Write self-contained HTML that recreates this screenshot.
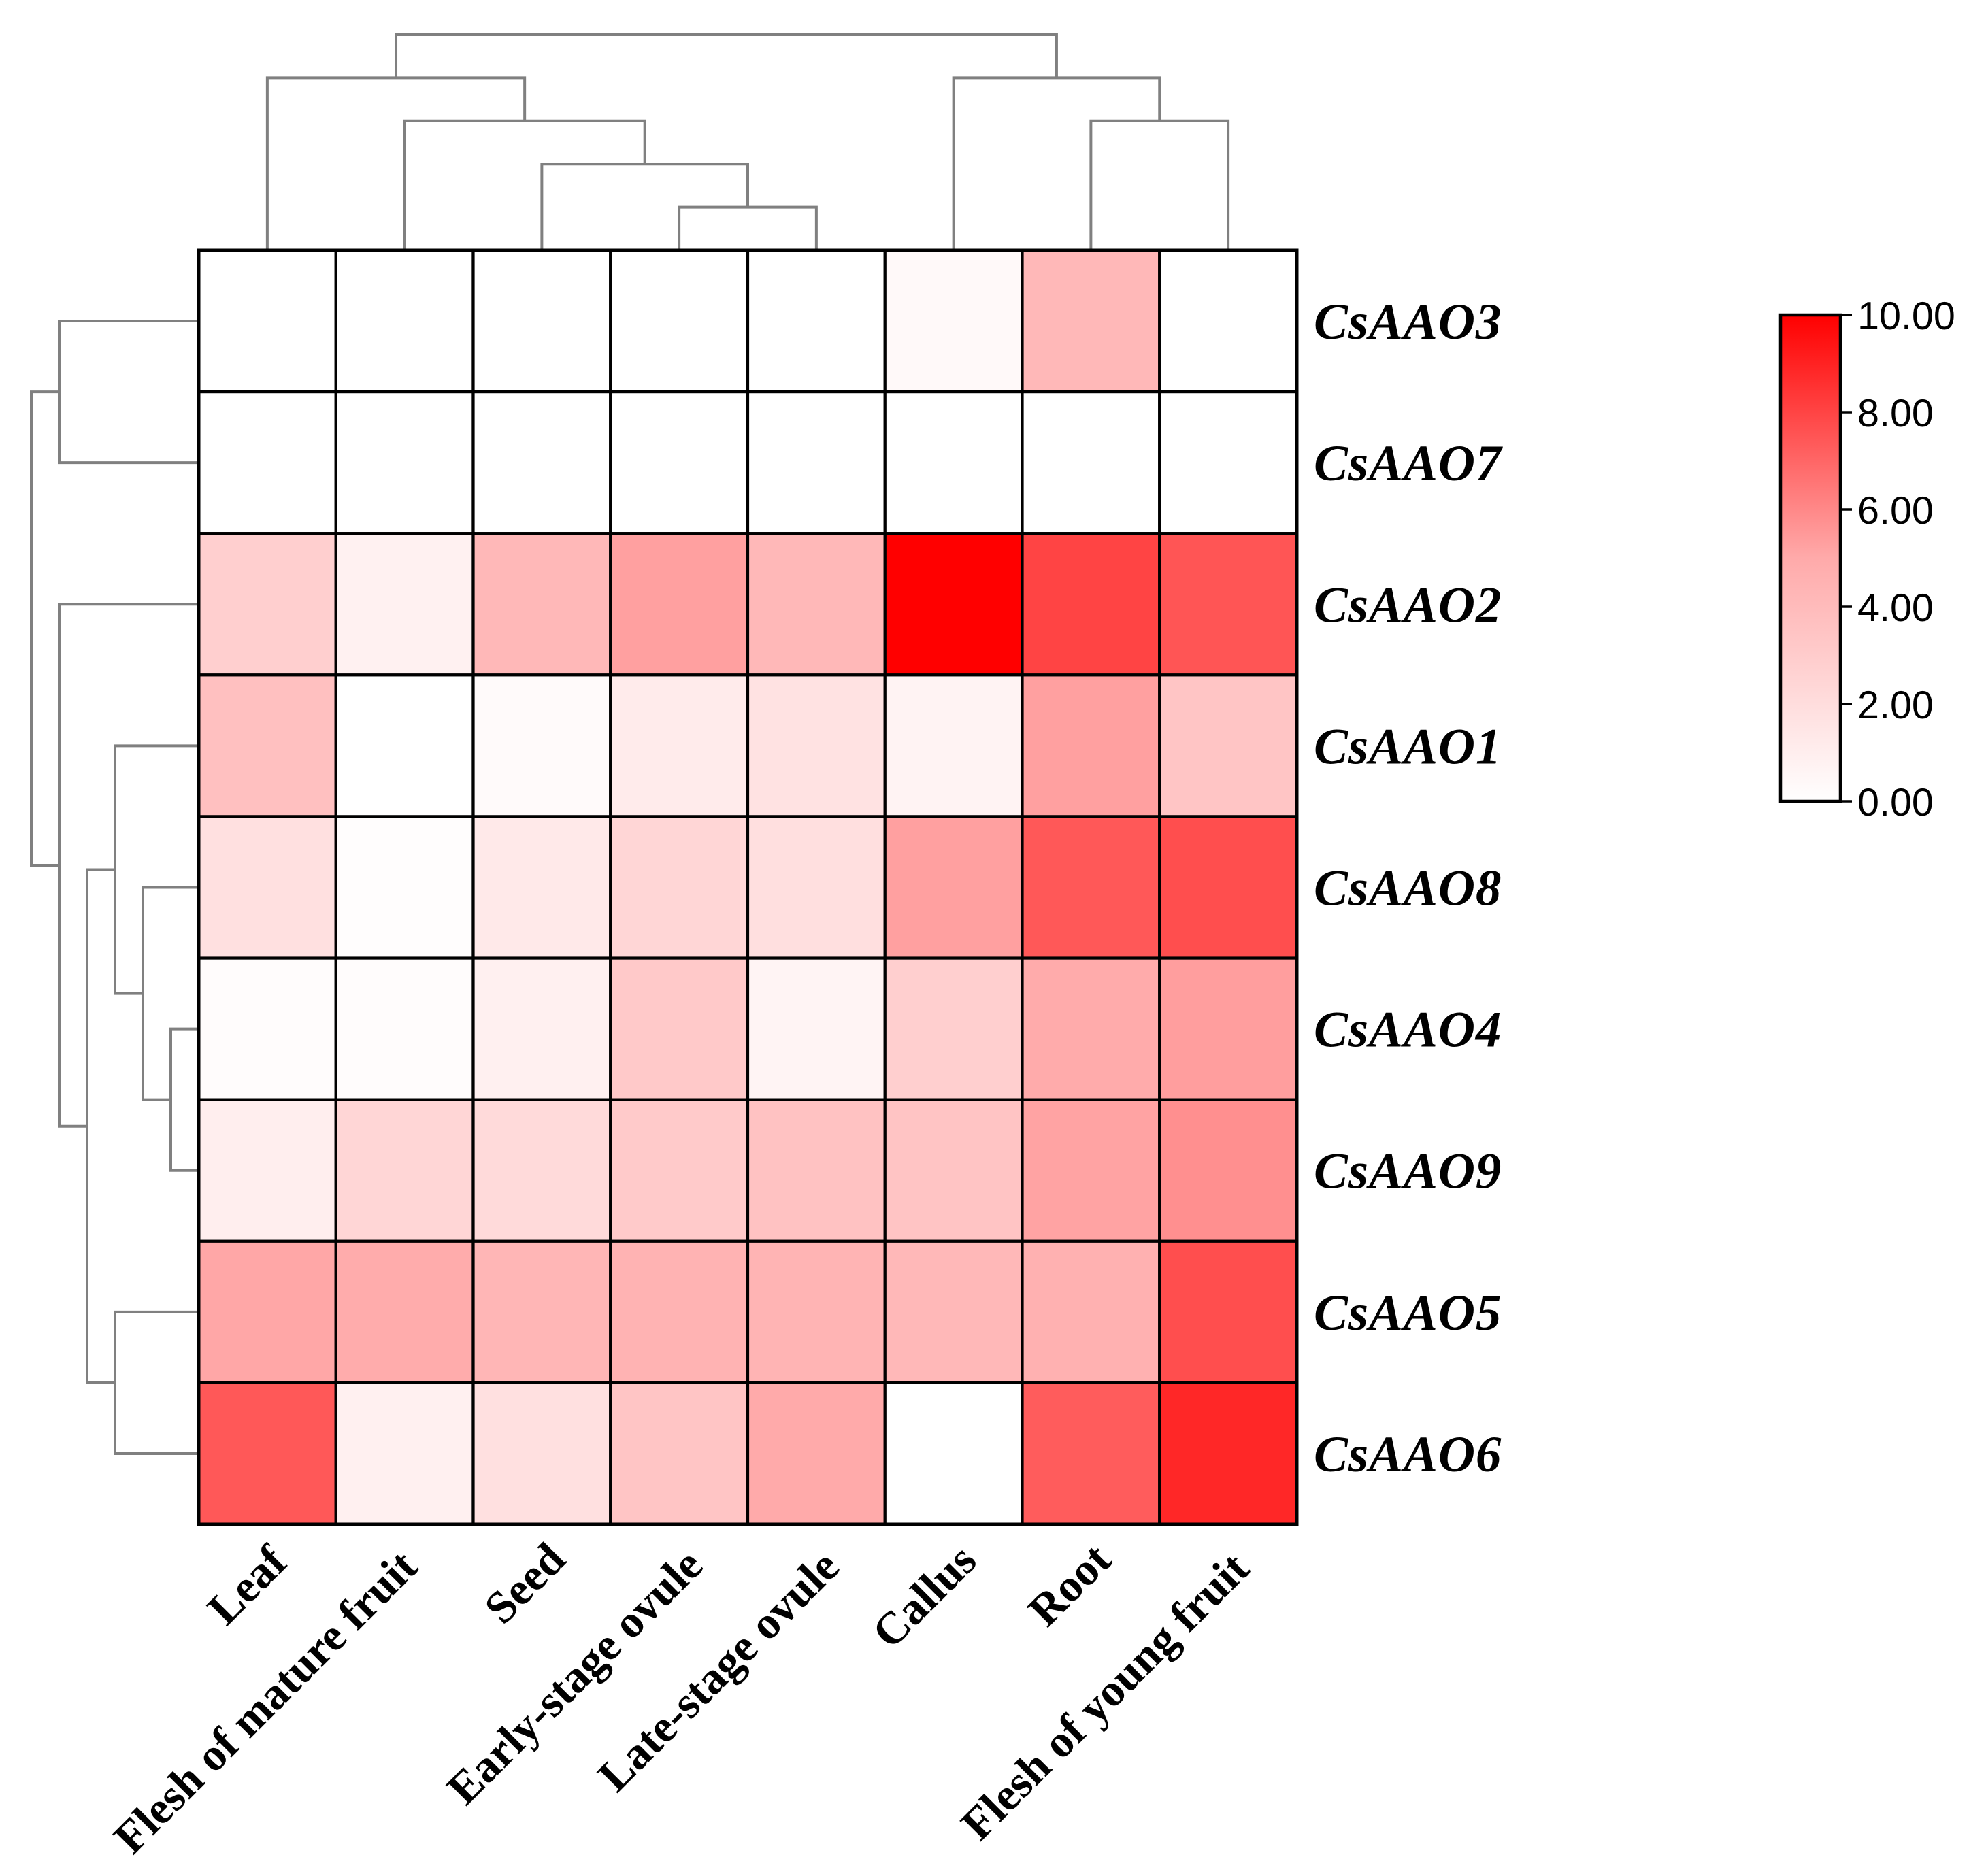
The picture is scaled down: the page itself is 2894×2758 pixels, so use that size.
<!DOCTYPE html>
<html lang="en">
<head>
<meta charset="utf-8">
<title>CsAAO expression heatmap</title>
<style>
html,body{margin:0;padding:0;background:#fff;}
svg{display:block;}
</style>
</head>
<body>
<svg id="chart" xmlns="http://www.w3.org/2000/svg" width="2894" height="2758" viewBox="0 0 2894 2758"></svg>
<script>
const colLabels = ["Leaf", "Flesh of mature fruit", "Seed", "Early-stage ovule", "Late-stage ovule", "Callus", "Root", "Flesh of young fruit"];
const rowLabels = ["CsAAO3", "CsAAO7", "CsAAO2", "CsAAO1", "CsAAO8", "CsAAO4", "CsAAO9", "CsAAO5", "CsAAO6"];
const valuesCsAAO3 = [0, 0, 0, 0, 0, 0.35, 4.2, 0];
const valuesCsAAO7 = [0, 0, 0, 0, 0, 0, 0, 0];
const valuesCsAAO2 = [2.8, 0.8, 4.2, 5.3, 4.2, 10, 8, 7.5];
const valuesCsAAO1 = [3.7, 0, 0.3, 1.2, 1.7, 0.7, 5.3, 3.4];
const valuesCsAAO8 = [1.8, 0.1, 1.3, 2.4, 1.9, 5.3, 7.4, 7.7];
const valuesCsAAO4 = [0.15, 0.15, 0.9, 3.2, 0.65, 2.8, 4.95, 5.35];
const valuesCsAAO9 = [1, 2.4, 2.2, 3.1, 3.6, 3.5, 5.2, 5.8];
const valuesCsAAO5 = [5.1, 4.9, 4.3, 4.5, 4.4, 4.2, 4.6, 7.7];
const valuesCsAAO6 = [7.4, 0.9, 1.8, 3.4, 5, 0, 7.3, 8.85];
const matrix = [valuesCsAAO3, valuesCsAAO7, valuesCsAAO2, valuesCsAAO1, valuesCsAAO8, valuesCsAAO4, valuesCsAAO9, valuesCsAAO5, valuesCsAAO6];
const colorbarTicks = [0, 2, 4, 6, 8, 10];
const colorbarTickLabels = ["0.00", "2.00", "4.00", "6.00", "8.00", "10.00"];
/* Linkage tables: [childA, childB, height]; ids past the leaf count refer to earlier merges. */
const topMerges = [[3, 4, 1], [2, 8, 2], [1, 9, 3], [6, 7, 3], [0, 10, 4], [5, 11, 4], [12, 13, 5]];
const leftMerges = [[0, 1, 5], [5, 6, 1], [4, 10, 2], [3, 11, 3], [7, 8, 3], [12, 13, 4], [2, 14, 5], [9, 15, 6]];

const NS = "http://www.w3.org/2000/svg";
const svg = document.getElementById("chart");
const grid = { left: 292, top: 368, right: 1906, bottom: 2241 };
const cellW = (grid.right - grid.left) / colLabels.length;
const cellH = (grid.bottom - grid.top) / rowLabels.length;
const colCenter = i => grid.left + cellW * (i + 0.5);
const rowCenter = i => grid.top + cellH * (i + 0.5);
const topLevel = h => grid.top - 63.4 * h;
const leftLevel = h => grid.left - 41 * h;
const bar = { left: 2617, right: 2705, top: 463, bottom: 1178, max: 10 };
const barY = v => bar.bottom - (bar.bottom - bar.top) * v / bar.max;
const colLabelNudge = {
  "Leaf": [2, 0],
  "Flesh of mature fruit": [-8, 7],
  "Seed": [8, -4],
  "Early-stage ovule": [8, 5],
  "Late-stage ovule": [7, 7],
  "Callus": [7, -2],
  "Root": [3, -3],
  "Flesh of young fruit": [4, 10]
};

function channel(v) {
  const t = Math.max(0, Math.min(10, v));
  return Math.round(t <= 5 ? 255 - 17 * t : 170 - 34 * (t - 5));
}
function color(v) {
  const c = channel(v);
  return "rgb(255," + c + "," + c + ")";
}
function make(tag, attrs, parent) {
  const el = document.createElementNS(NS, tag);
  for (const k in attrs) el.setAttribute(k, attrs[k]);
  parent.appendChild(el);
  return el;
}

/* Top dendrogram */
const topGroup = make("g", { fill: "none", stroke: "#808080", "stroke-width": 4, "stroke-linejoin": "miter" }, svg);


const topNodes = colLabels.map((_, i) => ({ pos: colCenter(i), h: 0 }));
topMerges.forEach((m, idx) => {
  const a = topNodes[m[0]], b = topNodes[m[1]];
  const path = make("path", { d: "M" + a.pos + " " + topLevel(a.h) + "V" + topLevel(m[2]) + "H" + b.pos + "V" + topLevel(b.h) }, topGroup);
  
  
  topNodes.push({ pos: (a.pos + b.pos) / 2, h: m[2] });
});

/* Left dendrogram */
const leftGroup = make("g", { fill: "none", stroke: "#808080", "stroke-width": 4, "stroke-linejoin": "miter" }, svg);


const leftNodes = rowLabels.map((_, i) => ({ pos: rowCenter(i), h: 0 }));
leftMerges.forEach((m, idx) => {
  const a = leftNodes[m[0]], b = leftNodes[m[1]];
  const path = make("path", { d: "M" + leftLevel(a.h) + " " + a.pos + "H" + leftLevel(m[2]) + "V" + b.pos + "H" + leftLevel(b.h) }, leftGroup);
  
  
  leftNodes.push({ pos: (a.pos + b.pos) / 2, h: m[2] });
});

/* Heatmap cells */
const cellGroup = make("g", { stroke: "#000", "stroke-width": 4.2 }, svg);


matrix.forEach((row, r) => {
  row.forEach((v, c) => {
    const cell = make("rect", { x: grid.left + c * cellW, y: grid.top + r * cellH, width: cellW, height: cellH, fill: color(v) }, cellGroup);
    
    
  });
});
const frame = make("rect", { x: grid.left, y: grid.top, width: grid.right - grid.left, height: grid.bottom - grid.top, fill: "none", stroke: "#000", "stroke-width": 5 }, svg);



/* Row labels */
rowLabels.forEach((label, r) => {
  const t = make("text", { x: 1931, y: rowCenter(r) + 26, "font-family": '"Liberation Serif", serif', "font-weight": "bold", "font-style": "italic", "font-size": 75, "letter-spacing": 0.9, fill: "#000" }, svg);
  t.textContent = label;
  
  
});

/* Column labels */
colLabels.forEach((label, c) => {
  const nudge = colLabelNudge[label];
  const x = colCenter(c) + 30 + nudge[0], y = 2300 + nudge[1];
  const t = make("text", { x: x, y: y, "text-anchor": "end", transform: "rotate(-45 " + x + " " + y + ")", "font-family": '"Liberation Serif", serif', "font-weight": "bold", "font-size": 67, fill: "#000" }, svg);
  t.textContent = label;
  
  
});

/* Colour bar */
const defs = make("defs", {}, svg);
const grad = make("linearGradient", { id: "colorbar-gradient", x1: 0, y1: 1, x2: 0, y2: 0 }, defs);
[0, 5, 10].forEach(v => {
  make("stop", { offset: v / bar.max, "stop-color": color(v) }, grad);
});
const barRect = make("rect", { x: bar.left, y: bar.top, width: bar.right - bar.left, height: bar.bottom - bar.top, fill: "url(#colorbar-gradient)", stroke: "#000", "stroke-width": 4.5 }, svg);


colorbarTicks.forEach((v, i) => {
  const y = barY(v);
  const tick = make("line", { x1: bar.right, x2: 2722, y1: y, y2: y, stroke: "#000", "stroke-width": 3.6 }, svg);
  
  
  const t = make("text", { x: 2730, y: y + 21, "font-family": '"Liberation Sans", sans-serif', "font-size": 57.5, fill: "#000" }, svg);
  t.textContent = colorbarTickLabels[i];
  
  
});
</script>
</body>
</html>
